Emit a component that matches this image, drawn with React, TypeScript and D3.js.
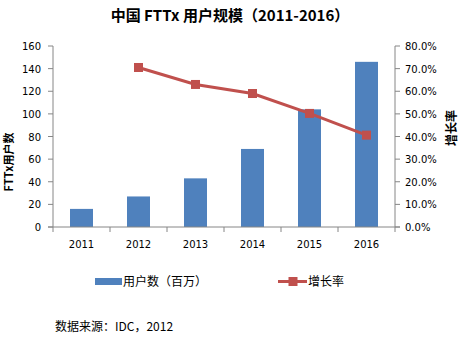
import React from "react";
import * as d3 from "d3";

const years = ["2011", "2012", "2013", "2014", "2015", "2016"];
const users = [16, 27, 43, 69, 104, 146];
const growth = [null, 70.5, 63, 59, 50.2, 40.6];
const leftTicks = [0, 20, 40, 60, 80, 100, 120, 140, 160];
const rightTicks = [0, 10, 20, 30, 40, 50, 60, 70, 80];

const W = 460, H = 338;
const left = 53, right = 395, top = 46, bottom = 227;
const BLUE = "#4F81BD", RED = "#C0504D", AXIS = "#868686";
const CJK = "'Noto Sans CJK SC', 'Noto Sans', sans-serif";
const NUM = "'DejaVu Sans', sans-serif";

export default function App() {
  const xb = d3.scaleBand().domain(years).range([left, right]);
  const yL = d3.scaleLinear().domain([0, 160]).range([bottom, top]);
  const yR = d3.scaleLinear().domain([0, 80]).range([bottom, top]);
  const pts = years
    .map((yr, i) => ({ yr, v: growth[i] }))
    .filter((d) => d.v !== null) as { yr: string; v: number }[];
  const line = d3
    .line<{ yr: string; v: number }>()
    .x((d) => (xb(d.yr) as number) + xb.bandwidth() / 2)
    .y((d) => yR(d.v));
  const boundaries = years.map((y) => xb(y) as number).concat([right]);

  return (
    <svg width={W} height={H} style={{ position: "absolute", left: 0, top: 0, background: "#fff" }}>
      <text x={230} y={21} textAnchor="middle" fontFamily={CJK} fontWeight="bold" fontSize={15} fill="#000">
        中国 FTTx 用户规模（2011-2016）
      </text>
      {years.map((yr, i) => {
        const cx = (xb(yr) as number) + xb.bandwidth() / 2;
        const bw = 23;
        return <rect key={yr} x={cx - bw / 2} y={yL(users[i])} width={bw} height={bottom - yL(users[i])} fill={BLUE} />;
      })}
      <line x1={left} x2={left} y1={top} y2={bottom} stroke={AXIS} />
      <line x1={right} x2={right} y1={top} y2={bottom} stroke={AXIS} />
      <line x1={left - 5} x2={right + 5} y1={bottom} y2={bottom} stroke={AXIS} />
      {leftTicks.map((t) => (
        <g key={"l" + t}>
          <line x1={left - 5} x2={left} y1={yL(t)} y2={yL(t)} stroke={AXIS} />
          <text x={41} y={yL(t) + 4} textAnchor="end" fontFamily={NUM} fontSize={10} fill="#000">{t}</text>
        </g>
      ))}
      {rightTicks.map((t) => (
        <g key={"r" + t}>
          <line x1={right} x2={right + 5} y1={yR(t)} y2={yR(t)} stroke={AXIS} />
          <text x={405} y={yR(t) + 4} textAnchor="start" fontFamily={NUM} fontSize={10} fill="#000">{t.toFixed(1)}%</text>
        </g>
      ))}
      {boundaries.map((b, i) => (
        <line key={"b" + i} x1={b} x2={b} y1={bottom} y2={bottom + 5} stroke={AXIS} />
      ))}
      {years.map((yr) => (
        <text key={"x" + yr} x={(xb(yr) as number) + xb.bandwidth() / 2} y={248} textAnchor="middle" fontFamily={NUM} fontSize={10} fill="#000">{yr}</text>
      ))}
      <path d={line(pts) || ""} fill="none" stroke={RED} strokeWidth={3} />
      {pts.map((d) => {
        const cx = (xb(d.yr) as number) + xb.bandwidth() / 2;
        return <rect key={"m" + d.yr} x={cx - 4.5} y={yR(d.v) - 4.5} width={9} height={9} fill={RED} />;
      })}
      <text transform="translate(13,162) rotate(-90)" textAnchor="middle" fontFamily={CJK} fontWeight="bold" fontSize={11} fill="#000">FTTx用户数</text>
      <text transform="translate(456,128) rotate(-90)" textAnchor="middle" fontFamily={CJK} fontWeight="bold" fontSize={12} fill="#000">增长率</text>
      <rect x={95} y={278} width={27} height={7} fill={BLUE} />
      <text x={123} y={286} fontFamily={CJK} fontSize={12} fill="#000">用户数（百万）</text>
      <line x1={278} x2={307} y1={281.5} y2={281.5} stroke={RED} strokeWidth={3} />
      <rect x={288.5} y={277} width={9} height={9} fill={RED} />
      <text x={308} y={286} fontFamily={CJK} fontSize={12} fill="#000">增长率</text>
      <text x={55} y={331} fontFamily={CJK} fontSize={12} fill="#000">数据来源：IDC，2012</text>
    </svg>
  );
}
